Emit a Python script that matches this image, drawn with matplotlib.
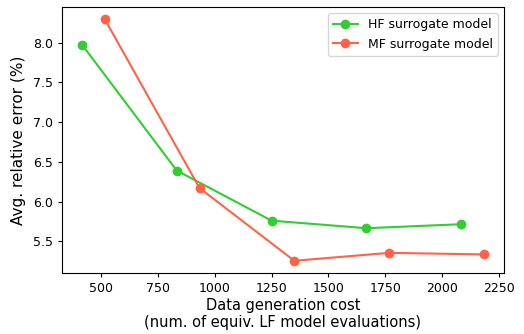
import matplotlib
matplotlib.use("Agg")
import matplotlib.pyplot as plt

hf_cost = [416.7, 833.3, 1250.0, 1666.7, 2083.3]
hf_err = [7.975, 6.39, 5.76, 5.665, 5.715]
mf_cost = [516.7, 933.3, 1350.0, 1766.7, 2183.3]
mf_err = [8.295, 6.17, 5.255, 5.355, 5.335]
x_ticks = [500, 750, 1000, 1250, 1500, 1750, 2000, 2250]

DPI = 100
fig, ax = plt.subplots(figsize=(524 / DPI, 334 / DPI), dpi=DPI)
ax.plot(hf_cost, hf_err, '-o', color='limegreen', label='HF surrogate model')
ax.plot(mf_cost, mf_err, '-o', color='tomato', label='MF surrogate model')
ax.set_xlabel('Data generation cost\n(num. of equiv. LF model evaluations)',
              fontsize=10.5, labelpad=2)
ax.set_ylabel('Avg. relative error (%)', fontsize=11, labelpad=5)
ax.set_xticks(x_ticks)
ax.tick_params(labelsize=9, length=3)
ax.legend(loc='upper right', fontsize=9)
fig.subplots_adjust(left=0.118, right=0.962, top=0.979, bottom=0.183)
fig.savefig('out.png', dpi=DPI)
